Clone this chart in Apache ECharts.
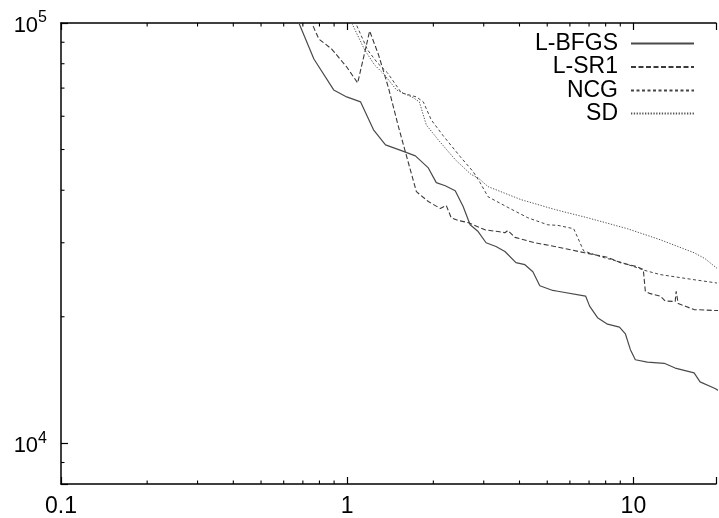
<!DOCTYPE html>
<html><head><meta charset="utf-8">
<script src="https://cdn.jsdelivr.net/npm/echarts@6/dist/echarts.min.js"></script>
<style>html,body{margin:0;padding:0;background:#fff}#c{width:719px;height:518px}</style>
</head><body><div id="c"></div>
<script>
const seriesNames = ['L-BFGS', 'L-SR1', 'NCG', 'SD'];

const lbfgs = [[0.636,111000],[0.678,100000],[0.765,82100],[0.897,69300],[0.996,66700],[1.114,64900],[1.236,55700],[1.361,51300],[1.547,49700],[1.731,48300],[1.921,45200],[2.048,41700],[2.201,41000],[2.385,39900],[2.542,36600],[2.689,33100],[2.868,31900],[3.057,30000],[3.311,29400],[3.558,28600],[3.887,26900],[4.178,26600],[4.455,25600],[4.710,23700],[5.229,23100],[5.443,23000],[6.808,22400],[7.031,21200],[7.496,19900],[8.122,19200],[8.941,18900],[9.380,18200],[9.763,16700],[10.16,15800],[11.19,15600],[12.82,15500],[14.00,15100],[16.30,14700],[17.10,14000],[19.29,13500],[20,13300]];

const lsr1 = [[0.706,110000],[0.752,100000],[0.796,91600],[0.883,86700],[0.996,78600],[1.088,72000],[1.198,95700],[1.287,84000],[1.394,70100],[1.511,56600],[1.636,46500],[1.745,39700],[1.921,37600],[2.115,36200],[2.219,36800],[2.309,34400],[2.443,33900],[2.646,33500],[3.032,32200],[3.365,31900],[3.558,31700],[3.645,32100],[3.856,30900],[4.527,30000],[5.312,29400],[6.755,28400],[8.122,27700],[9.013,26900],[10.33,26300],[10.83,25900],[11.01,23000],[11.46,22700],[12.41,22400],[12.92,21800],[14.00,21750],[14.11,23000],[14.34,21500],[16.30,20800],[19.29,20700],[20,20700]];

const ncg = [[1.004,110000],[1.070,100000],[1.178,86300],[1.277,80300],[1.383,76100],[1.547,68200],[1.745,66700],[1.845,64900],[1.967,58800],[2.166,53900],[2.482,48100],[2.754,44300],[2.913,41700],[3.106,38600],[3.645,36400],[4.279,34400],[5.022,33100],[5.443,33000],[6.184,32400],[6.385,30900],[6.699,28700],[7.677,27800],[9.157,26900],[10.92,25800],[12.41,25200],[16.30,24500],[19.29,24100],[20,24000]];

const sd = [[0.972,110000],[1.037,100000],[1.151,86300],[1.246,79500],[1.350,75300],[1.487,69300],[1.703,66400],[1.787,64900],[1.890,57200],[2.081,52700],[2.385,47300],[2.710,43600],[2.868,42800],[3.106,40800],[4.046,38000],[5.312,36000],[6.918,34400],[9.530,32400],[12.41,30500],[16.30,28400],[17.80,27500],[19.29,26300],[20,25800]];

const xRange = [0.1, 19.44];
const yRange = [8000, 100000];
const xMajorTicks = [0.1, 1, 10];
const yMajorTicks = [10000, 100000];
const xMinorTicks = [0.2,0.3,0.4,0.5,0.6,0.7,0.8,0.9,2,3,4,5,6,7,8,9];
const yMinorTicks = [9000,20000,30000,40000,50000,60000,70000,80000,90000];

const FONT = 'Liberation Sans, Arial, Helvetica, sans-serif';
const MINOR = 3.5;

function isMajor(v, list) {
  return list.some(t => Math.abs(Math.log10(v) - Math.log10(t)) < 1e-6);
}

const chart = echarts.init(document.getElementById('c'), null, {renderer: 'canvas'});

const legendTops = [32, 55.5, 79, 102];

const option = {
  animation: false,
  backgroundColor: '#fff',
  grid: {left: 61, top: 23, width: 658, height: 462.5, containLabel: false},
  xAxis: [{
    type: 'log', logBase: 10, min: xRange[0], max: xRange[1], position: 'bottom',
    axisLine: {show: true, lineStyle: {color: '#000', width: 1.5}},
    axisTick: {show: true, inside: true, length: 7, lineStyle: {color: '#000', width: 1.2}},
    minorTick: {show: false},
    splitLine: {show: false},
    axisLabel: {
      margin: 11, color: '#000', fontSize: 23, fontFamily: FONT,
      formatter: v => isMajor(v, xMajorTicks) ? String(Number(v.toPrecision(6))) : ''
    }
  }, {
    type: 'log', logBase: 10, min: xRange[0], max: xRange[1], position: 'top',
    axisLine: {show: true, lineStyle: {color: '#000', width: 1.5}},
    axisTick: {show: true, inside: true, length: 7, lineStyle: {color: '#000', width: 1.2}},
    splitLine: {show: false},
    axisLabel: {show: false}
  }],
  yAxis: [{
    type: 'log', logBase: 10, min: yRange[0], max: yRange[1], position: 'left',
    axisLine: {show: true, lineStyle: {color: '#000', width: 1.5}},
    axisTick: {show: true, inside: true, length: 7, lineStyle: {color: '#000', width: 1.2}},
    splitLine: {show: false},
    axisLabel: {
      margin: 14, color: '#000', fontFamily: FONT,
      formatter: v => isMajor(v, yMajorTicks) ? '{b|10}{s|' + Math.round(Math.log10(v)) + '}' : '',
      rich: {
        b: {fontSize: 22, fontFamily: FONT, color: '#000', lineHeight: 26, padding: [6, 0, 0, 0]},
        s: {fontSize: 16, fontFamily: FONT, color: '#000', lineHeight: 14, verticalAlign: 'top'}
      }
    }
  }],
  legend: seriesNames.map((n, i) => ({
    data: [n], right: 24, top: legendTops[i], orient: 'vertical', align: 'right',
    itemWidth: 63, itemHeight: 14, padding: 0, selectedMode: false,
    itemStyle: {opacity: 0},
    textStyle: {fontSize: 23, color: '#000', fontFamily: FONT, padding: [0, 8, 0, 0]}
  })),
  series: [
    {name: 'L-BFGS', type: 'line', data: lbfgs, symbol: 'none', clip: true, z: 3,
     lineStyle: {color: '#4a4a4a', width: 1.2, type: 'solid'}, itemStyle: {color: '#4a4a4a'}},
    {name: 'L-SR1', type: 'line', data: lsr1, symbol: 'none', clip: true, z: 3,
     lineStyle: {color: '#3a3a3a', width: 1.1, type: [5, 2.5]}, itemStyle: {color: '#3a3a3a'}},
    {name: 'NCG', type: 'line', data: ncg, symbol: 'none', clip: true, z: 3,
     lineStyle: {color: '#444', width: 1, type: [3, 2.5]}, itemStyle: {color: '#444'}},
    {name: 'SD', type: 'line', data: sd, symbol: 'none', clip: true, z: 3,
     lineStyle: {color: '#555', width: 1, type: [1.3, 1.5]}, itemStyle: {color: '#555'}},
    {type: 'custom', silent: true, xAxisIndex: 0, yAxisIndex: 0, clip: false, z: 4,
     data: xMinorTicks.map(v => [v, yRange[0]]),
     renderItem: function (params, api) {
       const p = api.coord([api.value(0), api.value(1)]);
       const cs = params.coordSys;
       const st = {stroke: '#000', lineWidth: 1.1};
       return {type: 'group', children: [
         {type: 'line', shape: {x1: p[0], y1: cs.y + cs.height, x2: p[0], y2: cs.y + cs.height - MINOR}, style: st},
         {type: 'line', shape: {x1: p[0], y1: cs.y, x2: p[0], y2: cs.y + MINOR}, style: st}
       ]};
     }},
    {type: 'custom', silent: true, xAxisIndex: 0, yAxisIndex: 0, clip: false, z: 4,
     data: yMinorTicks.map(v => [xRange[0], v]),
     renderItem: function (params, api) {
       const p = api.coord([api.value(0), api.value(1)]);
       const cs = params.coordSys;
       return {type: 'line', shape: {x1: cs.x, y1: p[1], x2: cs.x + MINOR, y2: p[1]},
               style: {stroke: '#000', lineWidth: 1.1}};
     }}
  ]
};
chart.setOption(option);
</script>
</body></html>
